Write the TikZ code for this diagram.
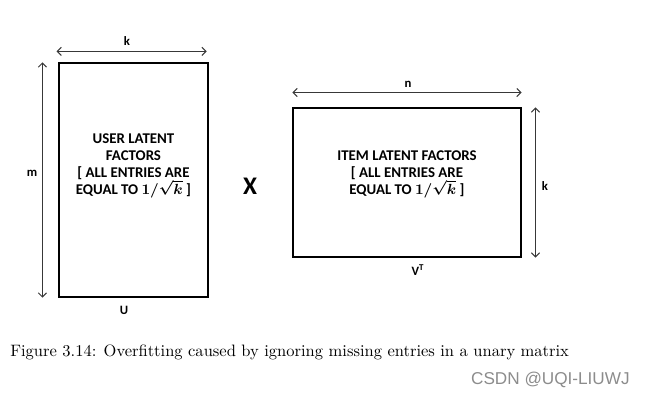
\documentclass[tikz,border=0pt]{standalone}
\usepackage{fontspec}
\newfontfamily\calib{Carlito}
\newfontfamily\wmark{Liberation Sans}
\usetikzlibrary{arrows.meta,positioning}

\begin{document}
\begin{tikzpicture}[x=0.0215cm, y=-0.0215cm,
  matbox/.style={draw=black, line width=0.7pt, inner sep=0pt},
  boxtext/.style={align=center, inner sep=0pt, font=\calib\bfseries\fontsize{9.1}{10.4}\selectfont},
  dimarrow/.style={{Straight Barb[length=2.5pt,width=5pt]}-{Straight Barb[length=2.5pt,width=5pt]}, draw=black!78, line width=0.6pt},
  dimlabel/.style={inner sep=0pt, font=\calib\bfseries\fontsize{7.8}{9}\selectfont}
]
\useasboundingbox (0,0) rectangle (645,400);

% the two factor matrices
\node[matbox, minimum width=3.2035cm, minimum height=5.031cm] (ubox) at (133.5,180) {};
\node[matbox, minimum width=4.902cm, minimum height=3.2035cm] (vbox) at (407,182.5) {};

\node[boxtext] (utext) at ([yshift=0.31cm]ubox.center)
  {USER LATENT\\ FACTORS\\ {[} ALL ENTRIES ARE\\ EQUAL TO {\boldmath$1/\sqrt{k}$} ]};
\node[boxtext] (vtext) at ([yshift=0.18cm]vbox.center)
  {ITEM LATENT FACTORS\\ {[} ALL ENTRIES ARE\\ EQUAL TO {\boldmath$1/\sqrt{k}$} ]};

\node[font=\calib\bfseries\fontsize{15.5}{15}\selectfont] (times) at (250,186) {X};

% dimensions
\coordinate (ktop) at ([yshift=0.237cm]ubox.north west);
\coordinate (ktopr) at ([yshift=0.237cm]ubox.north east);
\draw[dimarrow] ([xshift=-0.04cm]ktop) -- ([xshift=-0.04cm]ktopr);
\node[dimlabel] (klabu) at (127,41) {k};

\coordinate (mtop) at ([xshift=-0.344cm]ubox.north west);
\coordinate (mbot) at ([xshift=-0.344cm]ubox.south west);
\draw[dimarrow] (mbot) -- (mtop);
\node[dimlabel] (mlab) at (32,173) {m};
\node[dimlabel] (ulab) at (124,310) {U};

\coordinate (nl) at ([yshift=0.32cm]vbox.north west);
\coordinate (nr) at ([yshift=0.32cm]vbox.north east);
\draw[dimarrow] (nl) -- (nr);
\node[dimlabel] (nlab) at (408,84) {n};

\coordinate (kvt) at ([xshift=0.30cm]vbox.north east);
\coordinate (kvb) at ([xshift=0.30cm]vbox.south east);
\draw[dimarrow] (kvb) -- (kvt);
\node[dimlabel] (klabv) at (545,186) {k};
\node[dimlabel] (vlab) at (418,270) {V\textsuperscript{T}};

% caption and mark
\node[anchor=base west, inner sep=0pt, font=\fontsize{10.1}{12}\selectfont] (caption) at (10,356)
  {Figure 3.14: Overfitting caused by ignoring missing entries in a unary matrix};
\node[anchor=base east, inner sep=0pt, text=black!45, font=\wmark\fontsize{10.5}{12}\selectfont] (csdn) at (630,384)
  {CSDN @UQI-LIUWJ};
\end{tikzpicture}
\end{document}
